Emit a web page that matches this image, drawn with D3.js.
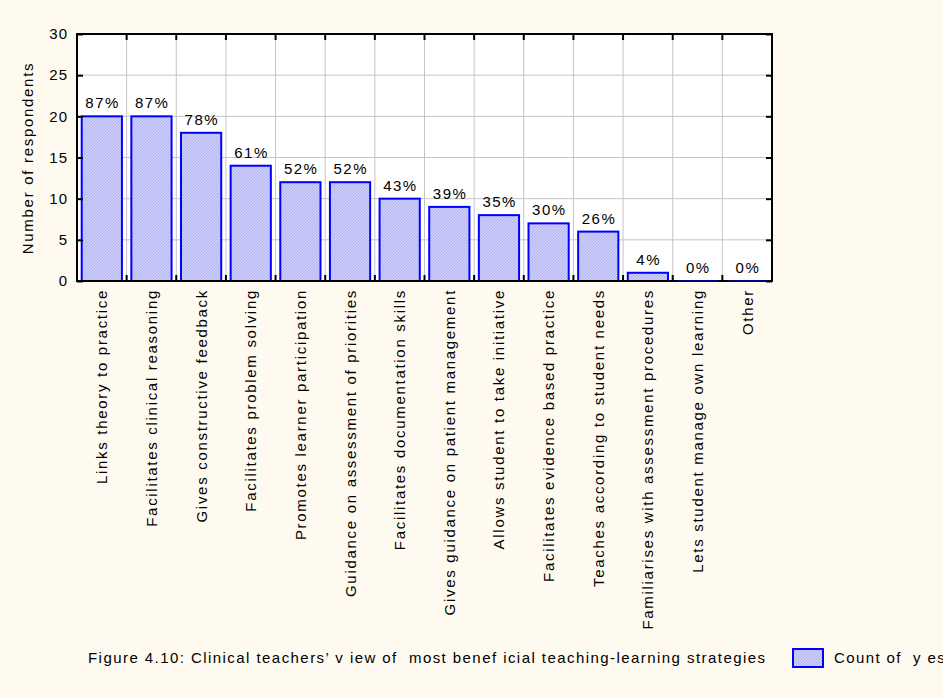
<!DOCTYPE html>
<html><head><meta charset="utf-8">
<script src="https://cdn.jsdelivr.net/npm/d3@7"></script>
<style>
body{margin:0;background:#fffaf0;}
text{font-family:Arial,"Liberation Sans",sans-serif;fill:#000;white-space:pre;}
</style></head>
<body>
<svg id="chart" width="943" height="698"></svg>
<script>
const categories = ["Links theory to practice","Facilitates clinical reasoning","Gives constructive feedback","Facilitates problem solving","Promotes learner participation","Guidance on assessment of priorities","Facilitates documentation skills","Gives guidance on patient management","Allows student to take initiative","Facilitates evidence based practice","Teaches according to student needs","Familiarises with assessment procedures","Lets student manage own learning","Other"];
const counts = [20,20,18,14,12,12,10,9,8,7,6,1,0,0];
const percentLabels = ["87%","87%","78%","61%","52%","52%","43%","39%","35%","30%","26%","4%","0%","0%"];
const yTicks = [0,5,10,15,20,25,30];
const yLabel = "Number of respondents";
const caption = "Figure 4.10: Clinical teachers\u2019 v iew of  most benef icial teaching-learning strategies";
const legendLabel = "Count of  y es";

const svg = d3.select("#chart");
svg.append("rect").attr("width",943).attr("height",698).attr("fill","#fffaf0");
const defs = svg.append("defs");
const pat = defs.append("pattern").attr("id","hatch").attr("patternUnits","userSpaceOnUse").attr("width",3).attr("height",3);
pat.append("rect").attr("width",3).attr("height",3).attr("fill","#cdcdfa");
pat.append("path").attr("d","M0,3 L3,0 M-1,1 L1,-1 M2,4 L4,2").attr("stroke","#a9a9ee").attr("stroke-width",0.8);

const L=77, R=772, T=34, B=281;
const FS=15;
const x = d3.scaleBand().domain(categories).range([L,R]).paddingInner(0.19).paddingOuter(0.095);
const xb = d3.scaleLinear().domain([0,categories.length]).range([L,R]);
const y = d3.scaleLinear().domain([0,30]).range([B,T]);

svg.append("rect").attr("x",L).attr("y",T).attr("width",R-L).attr("height",B-T).attr("fill","#fff");

// grid
const g = svg.append("g");
g.selectAll("line.h").data(yTicks.slice(1,-1)).join("line")
 .attr("x1",L).attr("x2",R).attr("y1",d=>y(d)).attr("y2",d=>y(d)).attr("stroke","#c4c4c4").attr("stroke-width",1);
const bounds = d3.range(1,categories.length);
g.selectAll("line.v").data(bounds).join("line")
 .attr("x1",d=>xb(d)).attr("x2",d=>xb(d)).attr("y1",T).attr("y2",B).attr("stroke","#c4c4c4").attr("stroke-width",1);

// bars
svg.append("g").selectAll("rect").data(categories).join("rect")
 .attr("x",d=>x(d)).attr("width",x.bandwidth())
 .attr("y",(d,i)=>y(counts[i])).attr("height",(d,i)=>B-y(counts[i]))
 .attr("fill","url(#hatch)").attr("stroke","#0000ff").attr("stroke-width",2);

// percent labels
svg.append("g").selectAll("text").data(categories).join("text")
 .attr("x",d=>x(d)+x.bandwidth()/2+0.75).attr("y",(d,i)=>y(counts[i])-8)
 .attr("text-anchor","middle").attr("font-size",FS).attr("letter-spacing",1.5)
 .text((d,i)=>percentLabels[i]);

// frame
svg.append("rect").attr("x",L).attr("y",T).attr("width",R-L).attr("height",B-T).attr("fill","none").attr("stroke","#000").attr("stroke-width",2);

// zero-height bars outline over the axis
svg.append("g").selectAll("line").data(categories.filter((d,i)=>counts[i]===0)).join("line")
 .attr("x1",d=>x(d)).attr("x2",d=>x(d)+x.bandwidth()).attr("y1",B).attr("y2",B)
 .attr("stroke","#000080").attr("stroke-width",2);

// y axis
const yAxis = d3.axisLeft(y).tickValues(yTicks).tickSize(-6).tickPadding(9);
const ya = svg.append("g").attr("transform",`translate(${L},0)`).call(yAxis);
ya.select(".domain").remove();
ya.selectAll(".tick line").attr("stroke","#000").attr("stroke-width",2);
ya.selectAll(".tick text").attr("font-size",FS).attr("font-family","Arial").attr("fill","#000").attr("letter-spacing",1);
const yr = d3.axisRight(y).tickValues(yTicks).tickSize(-6).tickFormat("");
const yra = svg.append("g").attr("transform",`translate(${R},0)`).call(yr);
yra.select(".domain").remove();
yra.selectAll(".tick line").attr("stroke","#000").attr("stroke-width",2);

// x ticks top & bottom at boundaries
svg.append("g").selectAll("line").data(bounds).join("line")
 .attr("x1",d=>xb(d)).attr("x2",d=>xb(d)).attr("y1",B).attr("y2",B-6).attr("stroke","#000").attr("stroke-width",2);
svg.append("g").selectAll("line").data(bounds).join("line")
 .attr("x1",d=>xb(d)).attr("x2",d=>xb(d)).attr("y1",T).attr("y2",T+6).attr("stroke","#000").attr("stroke-width",2);

// x labels
svg.append("g").selectAll("text").data(categories).join("text")
 .attr("transform",d=>`translate(${x(d)+x.bandwidth()/2+5.5},${B+8}) rotate(-90)`)
 .attr("text-anchor","end").attr("font-size",FS).attr("letter-spacing",1.7)
 .text(d=>d);

// y label
svg.append("text").attr("transform",`translate(${33},${158}) rotate(-90)`)
 .attr("text-anchor","middle").attr("font-size",FS).attr("letter-spacing",1.7).text(yLabel);

// caption
svg.append("text").attr("x",88).attr("y",663).attr("font-size",FS)
 .attr("textLength",677).attr("lengthAdjust","spacing").text(caption);
svg.append("rect").attr("x",793).attr("y",649).attr("width",30).attr("height",18).attr("fill","url(#hatch)").attr("stroke","#0000ff").attr("stroke-width",2);
svg.append("text").attr("x",834).attr("y",663).attr("font-size",FS).attr("letter-spacing",1.4).text(legendLabel);
</script>
</body></html>
